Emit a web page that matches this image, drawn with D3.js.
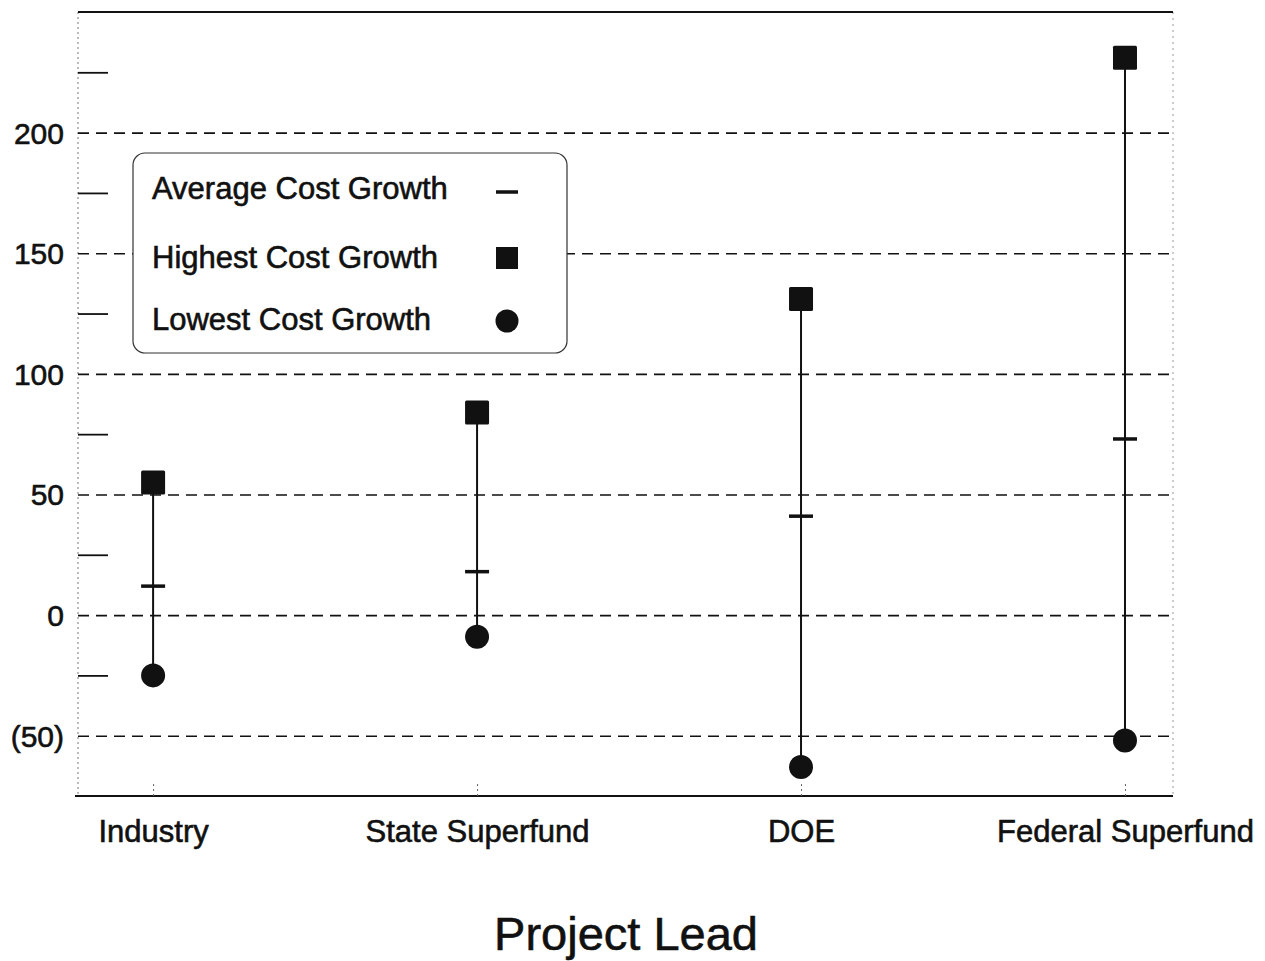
<!DOCTYPE html>
<html>
<head>
<meta charset="utf-8">
<script src="https://cdn.jsdelivr.net/npm/d3@7"></script>
<style>
  body { margin: 0; background: #fff; }
  text { font-family: "Liberation Sans", Arial, Helvetica, sans-serif; fill: #111; stroke: #111; stroke-width: 0.6px; }
</style>
</head>
<body>
<div class="chart-container"></div>
<script>
// data (cost growth, %)
const categories = ['Industry', 'State Superfund', 'DOE', 'Federal Superfund'];
const highValues = [55, 84, 131, 231];
const avgValues = [12, 18, 41, 73];
const lowValues = [-25, -9, -63, -52];
const majorTicks = [-50, 0, 50, 100, 150, 200];
const minorTicks = [-25, 25, 75, 125, 175, 225];
const legendLabels = ['Average Cost Growth', 'Highest Cost Growth', 'Lowest Cost Growth'];

const chartData = categories.map((c, i) => ({
    lead: c, high: highValues[i], avg: avgValues[i], low: lowValues[i]
}));

// negatives are written in brackets: (50)
const formatTick = d => d < 0 ? `(${Math.abs(d)})` : `${d}`;

const svg_width = 1265;
const svg_height = 961;
const margin = { top: 12, right: 92, bottom: 165, left: 78 };
const chart_width = svg_width - margin.left - margin.right;
const chart_height = svg_height - margin.top - margin.bottom;

const svg = d3.select('.chart-container').append('svg')
    .attr('width', svg_width).attr('height', svg_height);
const g = svg.append('g').attr('transform', `translate(${margin.left},${margin.top})`);

const xScale = d3.scalePoint().domain(categories)
    .range([0, chart_width]).padding(0.19).align(0.61);
const yScale = d3.scaleLinear().domain([-75, 250]).range([chart_height, 0]);

// frame: faint dotted sides, solid top and bottom
g.append('line').attr('x1', 0).attr('x2', 0).attr('y1', 0).attr('y2', chart_height)
    .style('stroke', '#777').style('stroke-width', 1).style('stroke-dasharray', '2,3');
g.append('line').attr('x1', chart_width).attr('x2', chart_width).attr('y1', 0).attr('y2', chart_height)
    .style('stroke', '#999').style('stroke-width', 1).style('stroke-dasharray', '2,4');
g.append('line').attr('x1', 0).attr('x2', chart_width).attr('y1', 0).attr('y2', 0)
    .style('stroke', '#111').style('stroke-width', 2);
g.append('line').attr('x1', -3).attr('x2', chart_width).attr('y1', chart_height).attr('y2', chart_height)
    .style('stroke', '#111').style('stroke-width', 2);

// major ticks: dashed grid lines across the plot + labels
const yAxis = d3.axisLeft(yScale).tickValues(majorTicks).tickFormat(formatTick)
    .tickSizeInner(-chart_width).tickSizeOuter(0).tickPadding(14);
const yAxisDraw = g.append('g').attr('class', 'y axis').call(yAxis);
yAxisDraw.select('.domain').remove();
yAxisDraw.selectAll('line').style('stroke', '#111').style('stroke-width', 1.6)
    .style('stroke-dasharray', '11,7');
yAxisDraw.selectAll('text').style('font-size', '30px').style('fill', '#111').attr('dy', '0.35em');

// minor ticks: short solid marks inside the left edge
const yMinor = d3.axisRight(yScale).tickValues(minorTicks).tickSize(30).tickFormat('');
const yMinorDraw = g.append('g').attr('class', 'y minor').call(yMinor);
yMinorDraw.select('.domain').remove();
yMinorDraw.selectAll('line').style('stroke', '#111').style('stroke-width', 1.8);

// x axis: category labels with small dotted ticks
const xAxis = d3.axisBottom(xScale).tickSizeInner(-14).tickSizeOuter(0).tickPadding(24);
const xAxisDraw = g.append('g').attr('class', 'x axis')
    .attr('transform', `translate(0,${chart_height})`).call(xAxis);
xAxisDraw.select('.domain').remove();
xAxisDraw.selectAll('line').style('stroke', '#666').style('stroke-dasharray', '2,3');
xAxisDraw.selectAll('text').style('font-size', '31px').style('fill', '#111');

// range lines from lowest to highest
g.selectAll('.range').data(chartData).enter()
    .append('line').attr('class', 'range')
    .attr('x1', d => xScale(d.lead)).attr('x2', d => xScale(d.lead))
    .attr('y1', d => yScale(d.high)).attr('y2', d => yScale(d.low))
    .style('stroke', '#111').style('stroke-width', 2);

// average marks
g.selectAll('.avg').data(chartData).enter()
    .append('line').attr('class', 'avg')
    .attr('x1', d => xScale(d.lead) - 12).attr('x2', d => xScale(d.lead) + 12)
    .attr('y1', d => yScale(d.avg)).attr('y2', d => yScale(d.avg))
    .style('stroke', '#111').style('stroke-width', 3.5);

// highest: squares
const sq = 24;
g.selectAll('.high').data(chartData).enter()
    .append('rect').attr('class', 'high')
    .attr('x', d => xScale(d.lead) - sq / 2).attr('y', d => yScale(d.high) - sq / 2)
    .attr('width', sq).attr('height', sq).attr('rx', 1.5)
    .style('fill', '#111');

// lowest: circles
g.selectAll('.low').data(chartData).enter()
    .append('circle').attr('class', 'low')
    .attr('cx', d => xScale(d.lead)).attr('cy', d => yScale(d.low)).attr('r', 12)
    .style('fill', '#111');

// legend box
const legend = svg.append('g').attr('class', 'legend').attr('transform', 'translate(133,153)');
legend.append('rect').attr('width', 434).attr('height', 200).attr('rx', 12)
    .style('fill', '#fff').style('stroke', '#333').style('stroke-width', 1.2);
const rowY = [35, 104, 166];
legend.selectAll('.leg-text').data(legendLabels).enter()
    .append('text').attr('class', 'leg-text')
    .attr('x', 19).attr('y', (d, i) => rowY[i]).attr('dy', '0.35em')
    .style('font-size', '31px').text(d => d);
legend.append('line').attr('x1', 363).attr('x2', 385).attr('y1', rowY[0] + 4).attr('y2', rowY[0] + 4)
    .style('stroke', '#111').style('stroke-width', 3.5);
legend.append('rect').attr('x', 363).attr('y', rowY[1] - 10).attr('width', 22).attr('height', 22)
    .style('fill', '#111');
legend.append('circle').attr('cx', 374).attr('cy', rowY[2] + 2).attr('r', 11.5)
    .style('fill', '#111');

// axis title
svg.append('text').attr('x', 626).attr('y', 950).attr('text-anchor', 'middle')
    .style('font-size', '47px').text('Project Lead');
</script>
</body>
</html>
